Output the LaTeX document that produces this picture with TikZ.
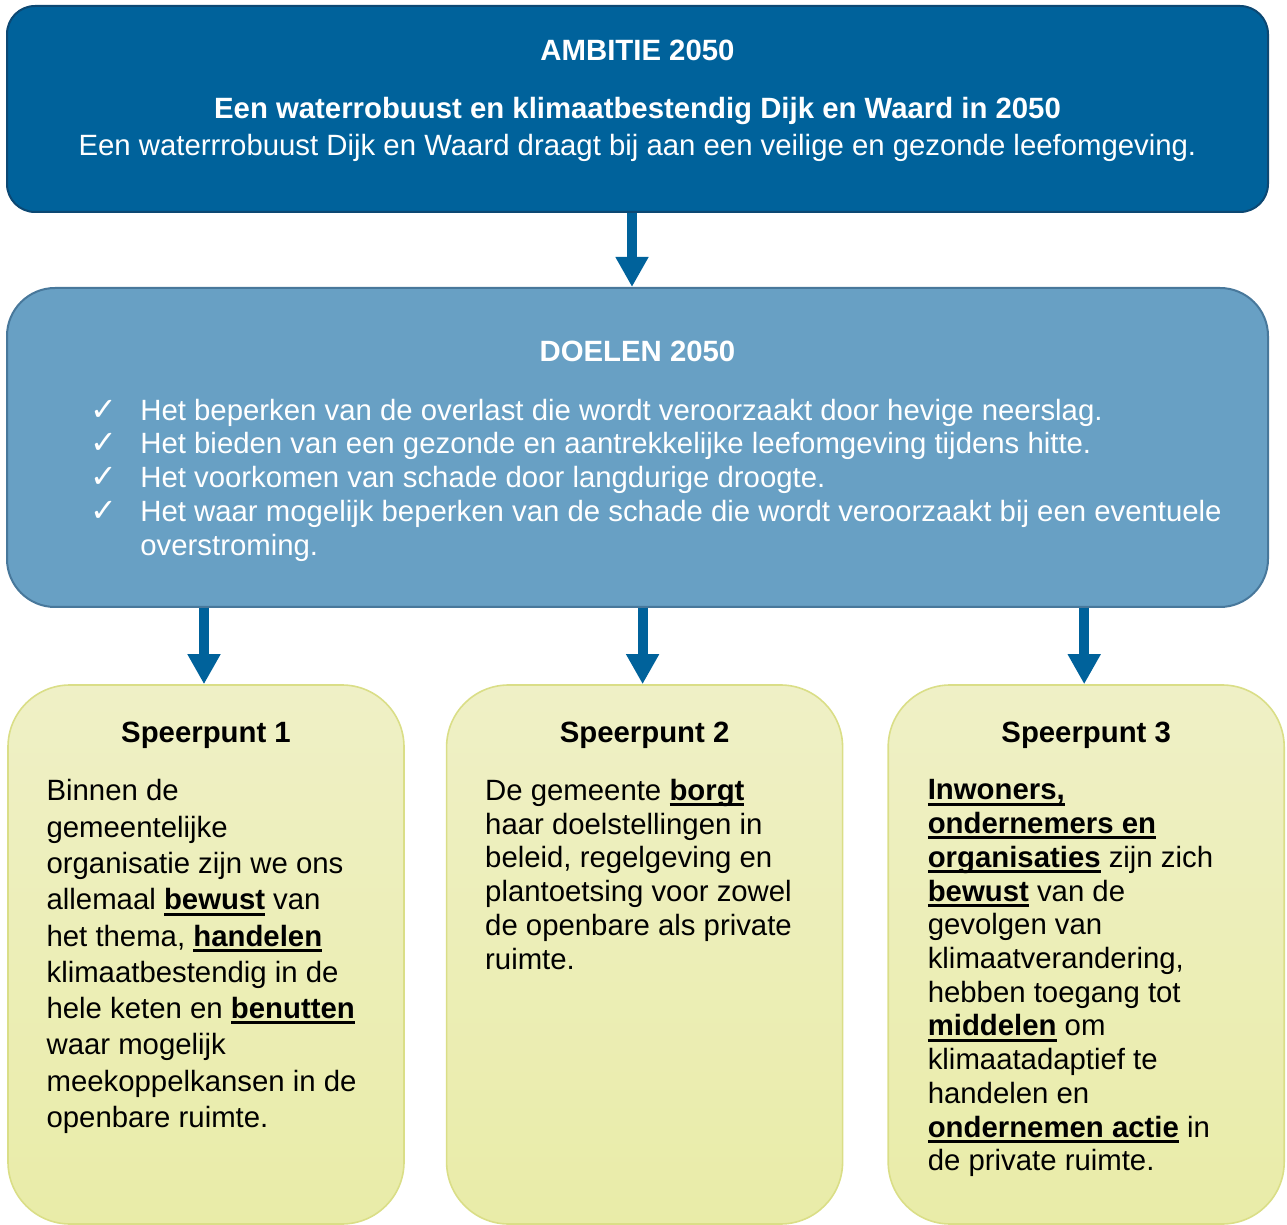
\documentclass[tikz,border=0pt]{standalone}
\usepackage{fontspec}
\setmainfont{Liberation Sans}
\newfontfamily\vinkfont{DejaVu Sans}
\usetikzlibrary{positioning,arrows.meta}
\definecolor{ambitieblauw}{RGB}{0,98,155}
\definecolor{ambitierand}{RGB}{12,72,115}
\definecolor{doelblauw}{RGB}{104,160,196}
\definecolor{doelrand}{RGB}{72,120,155}
\definecolor{speerboven}{RGB}{239,240,198}
\definecolor{speeronder}{RGB}{233,236,168}
\definecolor{speerrand}{RGB}{218,222,135}
\newcommand{\vink}{\llap{{\vinkfont\fontsize{16}{16}\selectfont ✓}\hspace{11.5pt}}}
\newsavebox{\nadrukbox}
\newcommand{\nadruk}[1]{\sbox{\nadrukbox}{\textbf{#1}}\rlap{\rule[-2.9pt]{\wd\nadrukbox}{1.5pt}}\usebox{\nadrukbox}}
\tikzset{
  ambitiebox/.style={draw=ambitierand, fill=ambitieblauw, line width=1pt, rounded corners=14pt, minimum width=630.5pt, minimum height=103pt, inner sep=0pt},
  doelbox/.style={draw=doelrand, fill=doelblauw, line width=1pt, rounded corners=24pt, minimum width=630.5pt, minimum height=159.5pt, inner sep=0pt},
  speerbox/.style={draw=speerrand, line width=0.8pt, top color=speerboven, bottom color=speeronder, rounded corners=31pt, minimum width=198pt, minimum height=269.5pt, inner sep=0pt},
  tekst/.style={inner sep=0pt, font=\fontsize{14.67}{16.87}\selectfont},
  pijl/.style={-{Triangle[width=15.5pt,length=15pt]}, line width=5pt, draw=ambitieblauw}
}
\begin{document}
\begin{tikzpicture}[x=0.5pt, y=-0.5pt]
  \useasboundingbox (0,0) rectangle (1287,1225);
  \node[ambitiebox] (ambitie) at (637.5,109) {};
  \node[doelbox, below=37pt of ambitie] (doelen) {};
  \node[speerbox] (sp1) at (206,954.5) {};
  \node[speerbox, right=20.5pt of sp1] (sp2) {};
  \node[speerbox, right=22pt of sp2] (sp3) {};

  \node[tekst, text=white, align=center, below=17.25pt of ambitie.north] (ambitiekop)
    {\textbf{AMBITIE 2050}\\[12.1pt]
     \textbf{Een waterrobuust en klimaatbestendig Dijk en Waard in 2050}\\[1.5pt]
     Een waterrrobuust Dijk en Waard draagt bij aan een veilige en gezonde leefomgeving.};
  \node[tekst, text=white, font=\fontsize{14.67}{16.87}\selectfont\bfseries, below=26.75pt of doelen.north] (doelenkop) {DOELEN 2050};
  \node[tekst, text=white, align=left, below right=55.75pt and 67pt of doelen.north west] (doelenlijst)
    {\vink Het beperken van de overlast die wordt veroorzaakt door hevige neerslag.\\
     \vink Het bieden van een gezonde en aantrekkelijke leefomgeving tijdens hitte.\\
     \vink Het voorkomen van schade door langdurige droogte.\\
     \vink Het waar mogelijk beperken van de schade die wordt veroorzaakt bij een eventuele\\
     overstroming.};

  \node[tekst, font=\fontsize{14.67}{16.87}\selectfont\bfseries, below=18.75pt of sp1.north] (sp1kop) {Speerpunt 1};
  \node[tekst, font=\fontsize{14.67}{16.87}\selectfont\bfseries, below=18.75pt of sp2.north] (sp2kop) {Speerpunt 2};
  \node[tekst, font=\fontsize{14.67}{16.87}\selectfont\bfseries, below=18.75pt of sp3.north] (sp3kop) {Speerpunt 3};

  \node[tekst, font=\fontsize{14.67}{18.15}\selectfont, align=left, below right=47.5pt and 19.5pt of sp1.north west] (sp1tekst)
    {Binnen de\\
     gemeentelijke\\
     organisatie zijn we ons\\
     allemaal \nadruk{bewust} van\\
     het thema, \nadruk{handelen}\\
     klimaatbestendig in de\\
     hele keten en \nadruk{benutten}\\
     waar mogelijk\\
     meekoppelkansen in de\\
     openbare ruimte.};
  \node[tekst, align=left, below right=47.25pt and 19.5pt of sp2.north west] (sp2tekst)
    {De gemeente \nadruk{borgt}\\
     haar doelstellingen in\\
     beleid, regelgeving en\\
     plantoetsing voor zowel\\
     de openbare als private\\
     ruimte.};
  \node[tekst, align=left, below right=47.5pt and 20pt of sp3.north west] (sp3tekst)
    {\nadruk{Inwoners,}\\
     \nadruk{ondernemers en}\\
     \nadruk{organisaties} zijn zich\\
     \nadruk{bewust} van de\\
     gevolgen van\\
     klimaatverandering,\\
     hebben toegang tot\\
     \nadruk{middelen} om\\
     klimaatadaptief te\\
     handelen en\\
     \nadruk{ondernemen actie} in\\
     de private ruimte.};

  \draw[pijl] ([xshift=-2.75pt]ambitie.south) -- ([xshift=-2.75pt]doelen.north);
  \foreach \sp in {sp1,sp2,sp3}
    \draw[pijl] ([xshift=-1pt]doelen.south -| \sp.north) -- ([xshift=-1pt]\sp.north);
\end{tikzpicture}
\end{document}
